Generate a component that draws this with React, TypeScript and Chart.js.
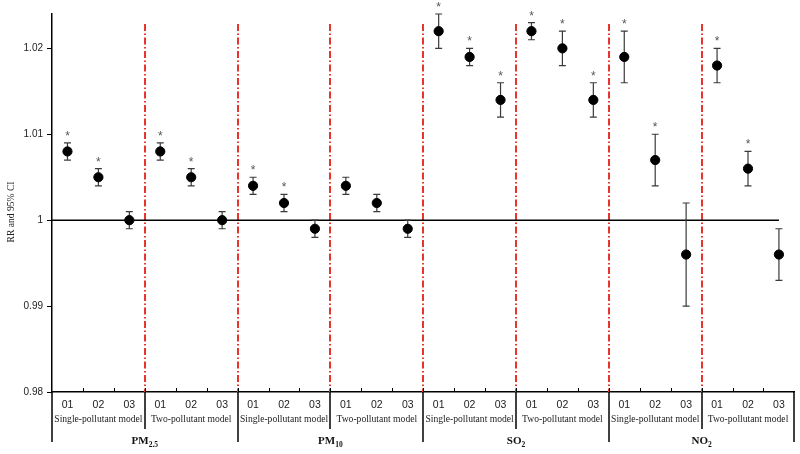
import React, { useEffect, useRef } from 'react';
import { Chart, registerables } from 'chart.js';

Chart.register(...registerables);

const categories = ['01', '02', '03', '01', '02', '03', '01', '02', '03', '01', '02', '03',
  '01', '02', '03', '01', '02', '03', '01', '02', '03', '01', '02', '03'];
const models = ['Single-pollutant model', 'Two-pollutant model'];
const pollutants = [['PM', '2.5'], ['PM', '10'], ['SO', '2'], ['NO', '2']];
const rr = [1.008, 1.005, 1.000, 1.008, 1.005, 1.000,
  1.004, 1.002, 0.999, 1.004, 1.002, 0.999,
  1.022, 1.019, 1.014, 1.022, 1.020, 1.014,
  1.019, 1.007, 0.996, 1.018, 1.006, 0.996];
const lower = [1.007, 1.004, 0.999, 1.007, 1.004, 0.999,
  1.003, 1.001, 0.998, 1.003, 1.001, 0.998,
  1.020, 1.018, 1.012, 1.021, 1.018, 1.012,
  1.016, 1.004, 0.990, 1.016, 1.004, 0.993];
const upper = [1.009, 1.006, 1.001, 1.009, 1.006, 1.001,
  1.005, 1.003, 1.000, 1.005, 1.003, 1.000,
  1.024, 1.020, 1.016, 1.023, 1.022, 1.016,
  1.022, 1.010, 1.002, 1.020, 1.008, 0.999];
const significant = [1, 1, 0, 1, 1, 0, 1, 1, 0, 0, 0, 0,
  1, 1, 1, 1, 1, 1, 1, 1, 0, 1, 1, 0];
const yTicks = [0.98, 0.99, 1.0, 1.01, 1.02];
const yMin = 0.98;
const yMax = 1.024;
const yTitle = 'RR and 95% CI';

const SERIF = '"Liberation Serif", "Times New Roman", serif';
const SANS = '"Liberation Sans", Arial, sans-serif';

const decorPlugin = {
  id: 'decor',
  beforeDatasetsDraw(chart: any) {
    const { ctx, chartArea, scales } = chart;
    const xs = scales.x;
    const ys = scales.y;
    ctx.save();
    // red dash-dot separators
    ctx.strokeStyle = '#e8352b';
    ctx.lineWidth = 2;
    ctx.setLineDash([7, 2.5, 1.5, 2.5]);
    for (let k = 1; k < categories.length / 3; k++) {
      const x = Math.round(xs.getPixelForValue(k * 3 - 0.5));
      ctx.beginPath();
      ctx.moveTo(x, chartArea.top + 10);
      ctx.lineTo(x, chartArea.bottom);
      ctx.stroke();
    }
    ctx.setLineDash([]);
    // reference line at RR = 1
    ctx.strokeStyle = '#000';
    ctx.lineWidth = 1.6;
    const y1 = ys.getPixelForValue(1);
    ctx.beginPath();
    ctx.moveTo(chartArea.left, y1);
    ctx.lineTo(xs.getPixelForValue(categories.length - 1), y1);
    ctx.stroke();
    // error bars
    ctx.strokeStyle = '#3a3a3a';
    ctx.lineWidth = 1.2;
    for (let i = 0; i < rr.length; i++) {
      const x = xs.getPixelForValue(i);
      const yl = ys.getPixelForValue(lower[i]);
      const yu = ys.getPixelForValue(upper[i]);
      ctx.beginPath();
      ctx.moveTo(x, yl);
      ctx.lineTo(x, yu);
      ctx.moveTo(x - 3.5, yl);
      ctx.lineTo(x + 3.5, yl);
      ctx.moveTo(x - 3.5, yu);
      ctx.lineTo(x + 3.5, yu);
      ctx.stroke();
    }
    ctx.restore();
  },
  afterDraw(chart: any) {
    const { ctx, chartArea, scales } = chart;
    const xs = scales.x;
    const ys = scales.y;
    const bottom = chartArea.bottom;
    ctx.save();
    // significance stars
    ctx.fillStyle = '#555';
    ctx.font = `12px ${SANS}`;
    ctx.textAlign = 'center';
    ctx.textBaseline = 'alphabetic';
    for (let i = 0; i < rr.length; i++) {
      if (!significant[i]) continue;
      const x = xs.getPixelForValue(i);
      const yu = ys.getPixelForValue(upper[i]);
      ctx.fillText('*', x, yu - 3);
    }
    // x-axis small ticks
    ctx.strokeStyle = '#000';
    ctx.lineWidth = 1;
    for (let k = 0; k < categories.length - 1; k++) {
      const x = Math.round(xs.getPixelForValue(k + 0.5)) + 0.5;
      ctx.beginPath();
      ctx.moveTo(x, bottom);
      ctx.lineTo(x, bottom - 4);
      ctx.stroke();
    }
    // category labels
    ctx.fillStyle = '#222';
    ctx.font = `10.5px ${SANS}`;
    ctx.textBaseline = 'middle';
    categories.forEach((c, i) => {
      ctx.fillText(c, xs.getPixelForValue(i), bottom + 13);
    });
    // model labels
    ctx.font = `9.6px ${SERIF}`;
    for (let g = 0; g < categories.length / 3; g++) {
      const x = xs.getPixelForValue(g * 3 + 1);
      ctx.fillText(models[g % 2], x, bottom + 27);
    }
    // separators below the axis
    ctx.strokeStyle = '#000';
    ctx.lineWidth = 1.5;
    for (let g = 0; g <= categories.length / 3; g++) {
      const x = Math.round(xs.getPixelForValue(g * 3 - 0.5));
      const long = g % 2 === 0;
      ctx.beginPath();
      ctx.moveTo(x, bottom);
      ctx.lineTo(x, bottom + (long ? 50 : 37));
      ctx.stroke();
    }
    // pollutant labels
    ctx.fillStyle = '#111';
    for (let p = 0; p < pollutants.length; p++) {
      const cx = xs.getPixelForValue(p * 6 + 2.5);
      const [main, sub] = pollutants[p];
      ctx.font = `bold 11px ${SERIF}`;
      const wMain = ctx.measureText(main).width;
      ctx.font = `bold 7.5px ${SERIF}`;
      const wSub = ctx.measureText(sub).width;
      const start = cx - (wMain + wSub) / 2;
      ctx.textAlign = 'left';
      ctx.textBaseline = 'alphabetic';
      ctx.font = `bold 11px ${SERIF}`;
      ctx.fillText(main, start, bottom + 52);
      ctx.font = `bold 7.5px ${SERIF}`;
      ctx.fillText(sub, start + wMain, bottom + 55);
      ctx.textAlign = 'center';
    }
    // y-axis title
    ctx.fillStyle = '#222';
    ctx.font = `9.6px ${SERIF}`;
    ctx.translate(11, 212);
    ctx.rotate(-Math.PI / 2);
    ctx.textAlign = 'center';
    ctx.textBaseline = 'middle';
    ctx.fillText(yTitle, 0, 0);
    ctx.restore();
  },
};

export default function App() {
  const canvasRef = useRef<HTMLCanvasElement | null>(null);

  useEffect(() => {
    document.body.style.margin = '0';
    const canvas = canvasRef.current;
    if (!canvas) return;
    const chart = new Chart(canvas, {
      type: 'scatter',
      data: {
        datasets: [
          {
            data: rr.map((v, i) => ({ x: i, y: v })),
            backgroundColor: '#000',
            borderColor: '#000',
            pointRadius: 4.6,
            pointHoverRadius: 4.6,
            showLine: false,
          },
        ],
      },
      options: {
        responsive: false,
        animation: false,
        devicePixelRatio: 1,
        layout: { padding: { top: 14, right: 4, left: 0, bottom: 0 } },
        plugins: {
          legend: { display: false },
          tooltip: { enabled: false },
          title: { display: false },
        },
        scales: {
          x: {
            type: 'linear',
            min: -0.5,
            max: categories.length - 0.5,
            ticks: { display: false },
            grid: { display: false, drawTicks: false },
            border: { display: true, color: '#000', width: 1.5 },
            afterFit: (s: any) => {
              s.height = 62;
            },
          },
          y: {
            type: 'linear',
            min: yMin,
            max: yMax,
            afterBuildTicks: (s: any) => {
              s.ticks = yTicks.map((v) => ({ value: v }));
            },
            ticks: {
              color: '#222',
              font: { family: SANS, size: 10 },
              padding: 4,
              callback: (v: any) => String(Number(v)),
            },
            grid: { drawOnChartArea: false, drawTicks: true, tickLength: 5, color: '#000' },
            border: { display: true, color: '#000', width: 1.5 },
            afterFit: (s: any) => {
              s.width = 52;
            },
          },
        },
      },
      plugins: [decorPlugin],
    } as any);
    return () => chart.destroy();
  }, []);

  return (
    <div style={{ width: 800, height: 454 }}>
      <canvas ref={canvasRef} width={800} height={454} />
    </div>
  );
}
